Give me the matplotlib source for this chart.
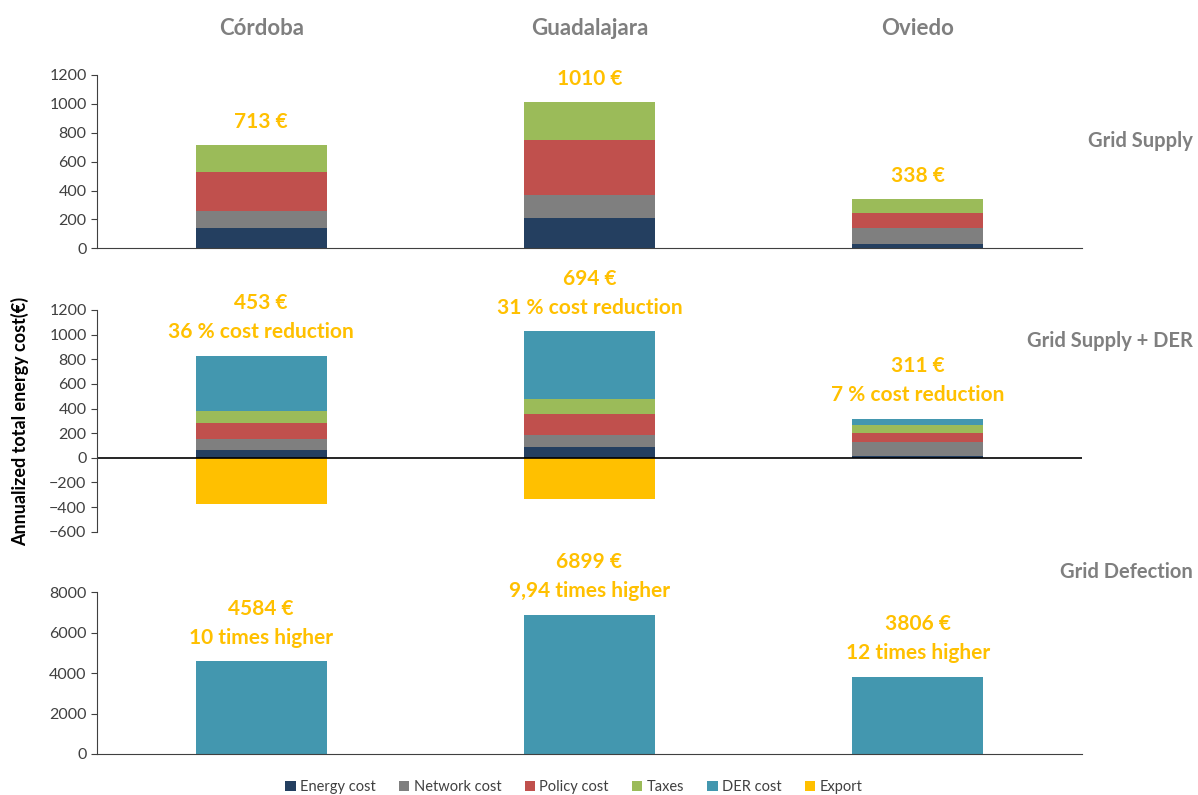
# Annualized household energy cost: grid supply, grid supply + DER, grid defection
import numpy as np
import matplotlib
matplotlib.use('Agg')
import matplotlib.pyplot as plt
from matplotlib.patches import Patch

plt.rcParams['font.family'] = ['Lato', 'DejaVu Sans']

cities = ['Córdoba', 'Guadalajara', 'Oviedo']

# Grid supply only
grid_energy = [142, 212, 30]
grid_network = [118, 159, 108]
grid_policy = [266, 381, 106]
grid_taxes = [187, 258, 94]

# Grid supply + DER
der_energy = [65, 86, 18]
der_network = [89, 102, 108]
der_policy = [129, 165, 73]
der_taxes = [94, 124, 68]
der_cost = [449, 549, 48]
der_export = [-373, -332, -4]
der_notes = ['36 % cost reduction', '31 % cost reduction', '7 % cost reduction']

# Grid defection
defection_cost = [4584, 6899, 3806]
defection_notes = ['10 times higher', '9,94 times higher', '12 times higher']

components = ['Energy cost', 'Network cost', 'Policy cost', 'Taxes', 'DER cost', 'Export']
colors = ['#243F60', '#7F7F7F', '#C0504D', '#9BBB59', '#4397AF', '#FFC000']

label_color = '#FFC000'
gray = '#7F7F7F'
tick_gray = '#404040'
bar_w = 0.4
x = np.arange(len(cities))

fig = plt.figure(figsize=(11.98, 7.95), dpi=100)
ax1 = fig.add_axes([0.081, 0.6877, 0.822, 0.218])
ax2 = fig.add_axes([0.081, 0.3312, 0.822, 0.2789])
ax3 = fig.add_axes([0.081, 0.0516, 0.822, 0.2034])


def style(ax):
    ax.set_xlim(-0.5, 2.5)
    ax.set_xticks([])
    for s in ['top', 'right']:
        ax.spines[s].set_visible(False)
    ax.spines['left'].set_color(tick_gray)
    ax.spines['bottom'].set_color(tick_gray)
    ax.tick_params(axis='y', direction='out', length=4, color=tick_gray,
                   labelcolor=tick_gray, labelsize=11.5)


def stack(ax, layers, cols):
    bottom = np.zeros(len(x))
    for vals, c in zip(layers, cols):
        ax.bar(x, vals, bar_w, bottom=bottom, color=c, linewidth=0)
        bottom += np.array(vals)
    return bottom


def note(ax, xi, top, lines):
    offs = [17, 38]
    for k, line in enumerate(reversed(lines)):
        ax.annotate(line, xy=(xi, top), xytext=(0, offs[k]), textcoords='offset points',
                    ha='center', va='center', color=label_color,
                    fontsize=15, fontweight='bold')


# top panel
style(ax1)
tops = stack(ax1, [grid_energy, grid_network, grid_policy, grid_taxes], colors[:4])
ax1.set_ylim(0, 1200)
ax1.set_yticks(range(0, 1201, 200))
grid_totals = tops.astype(int)
for i in range(len(x)):
    note(ax1, x[i], tops[i], [f'{grid_totals[i]} €'])
    ax1.text(x[i], 1.27, cities[i], transform=ax1.get_xaxis_transform(),
             ha='center', va='center', color=gray, fontsize=16, fontweight='bold')

# middle panel
style(ax2)
ax2.spines['bottom'].set_visible(False)
tops2 = stack(ax2, [der_energy, der_network, der_policy, der_taxes, der_cost], colors[:5])
ax2.bar(x, der_export, bar_w, color=colors[5], linewidth=0)
ax2.axhline(0, color='black', linewidth=1.2)
ax2.set_ylim(-600, 1200)
ax2.set_yticks(range(-600, 1201, 200))
der_totals = (tops2 + np.array(der_export)).astype(int)
for i in range(len(x)):
    note(ax2, x[i], tops2[i], [f'{der_totals[i]} €', der_notes[i]])

# bottom panel
style(ax3)
ax3.bar(x, defection_cost, bar_w, color=colors[4], linewidth=0)
ax3.set_ylim(0, 8000)
ax3.set_yticks(range(0, 8001, 2000))
for i in range(len(x)):
    note(ax3, x[i], defection_cost[i], [f'{defection_cost[i]} €', defection_notes[i]])

# scenario names on the right
for y, txt in [(0.8226, 'Grid Supply'), (0.571, 'Grid Supply + DER'), (0.2805, 'Grid Defection')]:
    fig.text(0.996, y, txt, ha='right', va='center', color=gray, fontsize=14.5, fontweight='bold')

fig.text(0.017, 0.47, 'Annualized total energy cost(€)', rotation=90, ha='center', va='center',
         fontsize=13, fontweight='bold', color='black')

handles = [Patch(facecolor=c, label=n) for c, n in zip(colors, components)]
fig.legend(handles=handles, loc='center', bbox_to_anchor=(0.479, 0.01), ncol=6, frameon=False,
           fontsize=10.5, handlelength=0.7, handleheight=0.7, handletextpad=0.3, columnspacing=1.6,
           labelcolor=tick_gray)

fig.savefig('out.png', dpi=100)
